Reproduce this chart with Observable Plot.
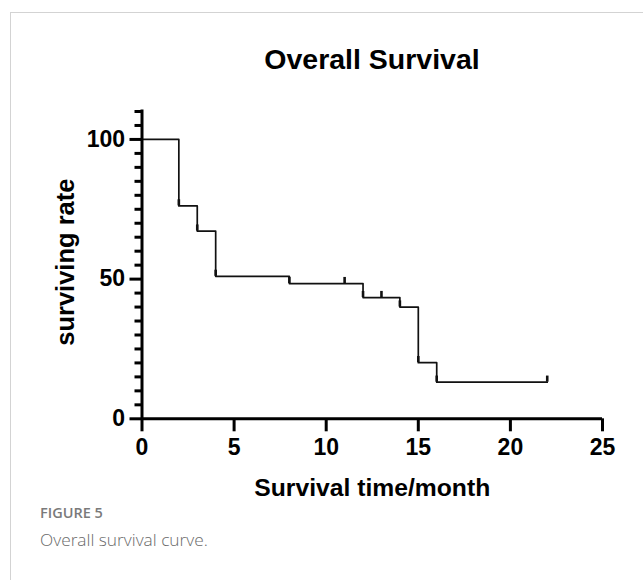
<!DOCTYPE html>
<html>
<head>
<meta charset="utf-8">
<script src="https://cdn.jsdelivr.net/npm/d3@7"></script>
<script src="https://cdn.jsdelivr.net/npm/@observablehq/plot@0.6"></script>
<style>
  html, body { margin: 0; padding: 0; background: #fff; }
  body { width: 643px; height: 580px; overflow: hidden; position: relative; font-family: "Liberation Sans", Arial, sans-serif; }
  #frame { position: absolute; left: 10px; top: 12px; width: 660px; height: 600px; border-top: 1px solid #d3d3d3; border-left: 1px solid #d3d3d3; }
  #title { position: absolute; left: 141.5px; width: 461px; top: 45px; text-align: center; font-weight: bold; font-size: 28.5px; line-height: 1; color: #000; white-space: nowrap; }
  #chart { position: absolute; left: 0; top: 90px; }
  #cap1 { position: absolute; left: 40px; top: 506px; font-family: "Open Sans", sans-serif; font-weight: 600; font-size: 14.5px; color: #7a7a7a; line-height: 1; }
  #cap2 { position: absolute; left: 40px; top: 531px; font-family: "Open Sans", sans-serif; font-weight: 300; font-size: 17.3px; color: #6a6a6a; line-height: 1; }
</style>
</head>
<body>
<div id="frame"></div>
<div id="title">Overall Survival</div>
<div id="chart"></div>
<div id="cap1">FIGURE 5</div>
<div id="cap2">Overall survival curve.</div>
<script>
// Kaplan–Meier step curve (months, % surviving)
const stepTimes    = [0, 2, 3, 4, 8, 12, 14, 15, 16, 22];
const stepSurvival = [100, 76.2, 67.2, 51.0, 48.4, 43.4, 40.0, 20.1, 13.1, 13.1];
// Censor tick marks
const censorTimes    = [2, 3, 4, 8, 11, 12, 13, 14, 15, 16, 22];
const censorSurvival = [76.2, 67.2, 51.0, 48.4, 48.4, 43.4, 43.4, 40.0, 20.1, 13.1, 13.1];
// Axis ticks
const xTicks = [0, 5, 10, 15, 20, 25];
const yMajorTicks = [0, 50, 100];
const yMinorTicks = [5, 10, 15, 20, 25, 30, 35, 40, 45, 55, 60, 65, 70, 75, 80, 85, 90, 95, 105, 110];
const xDomain = [0, 25];
const yDomain = [0, 110];
const xLabel = "Survival time/month";
const yLabel = "surviving rate";

const curve = stepTimes.map((t, i) => ({t, s: stepSurvival[i]}));
const censors = censorTimes.map((t, i) => ({t, s: censorSurvival[i]}));

const chart = Plot.plot({
  width: 643,
  height: 420,
  marginLeft: 141.5,
  marginRight: 41,
  marginTop: 21,
  marginBottom: 91.7,
  style: { fontFamily: "Liberation Sans, Arial, sans-serif", fontSize: "23px", fontWeight: "bold", background: "transparent", overflow: "visible" },
  x: { domain: xDomain },
  y: { domain: yDomain },
  marks: [
    Plot.line(curve, { x: "t", y: "s", curve: "step-after", stroke: "#111", strokeWidth: 1.7 }),
    Plot.ruleX(censors, { x: "t", y1: "s", y2: d => d.s + 2.2, stroke: "#111", strokeWidth: 2.6 }),
    Plot.axisY(yMinorTicks, { tickSize: 7, strokeWidth: 3, stroke: "#000", fill: null, text: null, label: null }),
    Plot.axisY(yMajorTicks, { tickSize: 12, tickPadding: 5, strokeWidth: 3, stroke: "#000", fill: "#000", fontSize: 23, fontWeight: "bold", label: null }),
    Plot.axisX(xTicks, { tickSize: 13, tickPadding: 7, strokeWidth: 3, stroke: "#000", fill: "#000", fontSize: 23, fontWeight: "bold", label: null }),
    Plot.ruleX([xDomain[0]], { y1: yDomain[0], y2: yDomain[1], stroke: "#000", strokeWidth: 3, strokeLinecap: "square" }),
    Plot.ruleY([yDomain[0]], { x1: xDomain[0], x2: xDomain[1], stroke: "#000", strokeWidth: 3 }),
    Plot.text([yLabel], { frameAnchor: "left", rotate: -90, dx: -68.5, dy: -3, lineAnchor: "bottom", textAnchor: "middle", fontSize: 25.5, fontWeight: "bold", fill: "#000" }),
    Plot.text([xLabel], { frameAnchor: "bottom", dy: 76.7, lineAnchor: "bottom", textAnchor: "middle", fontSize: 24.7, fontWeight: "bold", fill: "#000" })
  ]
});
document.getElementById("chart").appendChild(chart);
</script>
</body>
</html>
